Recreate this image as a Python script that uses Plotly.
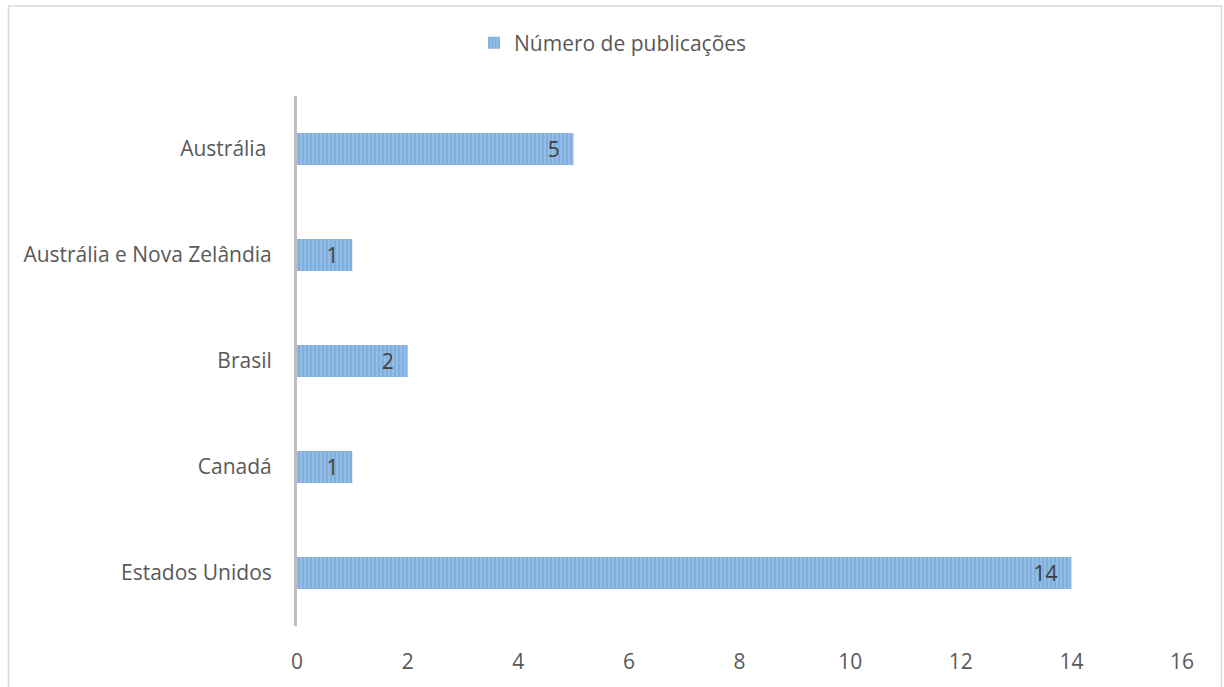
import plotly.graph_objects as go

categories = ["Austrália\u00a0", "Austrália e Nova Zelândia", "Brasil", "Canadá", "Estados Unidos"]
values = [5, 1, 2, 1, 14]
series_name = "Número de publicações"
x_ticks = [0, 2, 4, 6, 8, 10, 12, 14, 16]

W, H = 1224, 687
L, R, T, B = 297, 42, 96, 58
pw, ph = W - L - R, H - T - B

FONT = "Open Sans"
FS = 21

fig = go.Figure()
fig.add_trace(go.Bar(
    y=categories, x=values, orientation="h", name=series_name,
    marker=dict(color="#5B9BD5", line=dict(width=0),
                pattern=dict(shape="|", fgcolor="#5593D0", bgcolor="#A8CAEB", size=4, solidity=0.75)),
    text=[str(v) for v in values], texttemplate="%{text}\u00a0\u00a0", textposition="inside",
    insidetextanchor="end", textangle=0, constraintext="none",
    textfont=dict(family=FONT, size=FS, color="#404040"),
    showlegend=True,
))

def px_x(p):
    return (p - L) / pw

def px_y(p):
    return (H - B - p) / ph

fig.add_shape(type="rect", xref="paper", yref="paper",
              x0=px_x(8.5), x1=px_x(1221.5), y0=px_y(695), y1=px_y(5.5),
              line=dict(color="#D9D9D9", width=1.5), fillcolor="rgba(0,0,0,0)", layer="below")

fig.update_layout(
    width=W, height=H,
    margin=dict(l=L, r=R, t=T, b=B),
    paper_bgcolor="white", plot_bgcolor="white",
    bargap=0.7,
    font=dict(family=FONT, size=FS, color="#595959"),
    legend=dict(orientation="h", xref="container", yref="container",
                x=474 / W, y=1 - 43 / H, xanchor="left", yanchor="middle",
                font=dict(family=FONT, size=FS, color="#595959"),
                itemwidth=30, bgcolor="rgba(0,0,0,0)"),
    xaxis=dict(range=[0, 16], tickvals=x_ticks, showgrid=False, zeroline=False,
               showline=False, ticks="outside", ticklen=17, tickcolor="rgba(0,0,0,0)",
               tickfont=dict(size=FS, color="#595959")),
    yaxis=dict(categoryorder="array", categoryarray=categories[::-1],
               showgrid=False, zeroline=False, showline=True, linecolor="#BFBFBF", linewidth=3,
               ticks="outside", ticklen=18, tickcolor="rgba(0,0,0,0)",
               tickfont=dict(size=FS, color="#595959")),
)

fig.write_html("out.html", config={"displayModeBar": False},
               post_script="document.body.style.margin='0';document.body.style.overflow='hidden';")
